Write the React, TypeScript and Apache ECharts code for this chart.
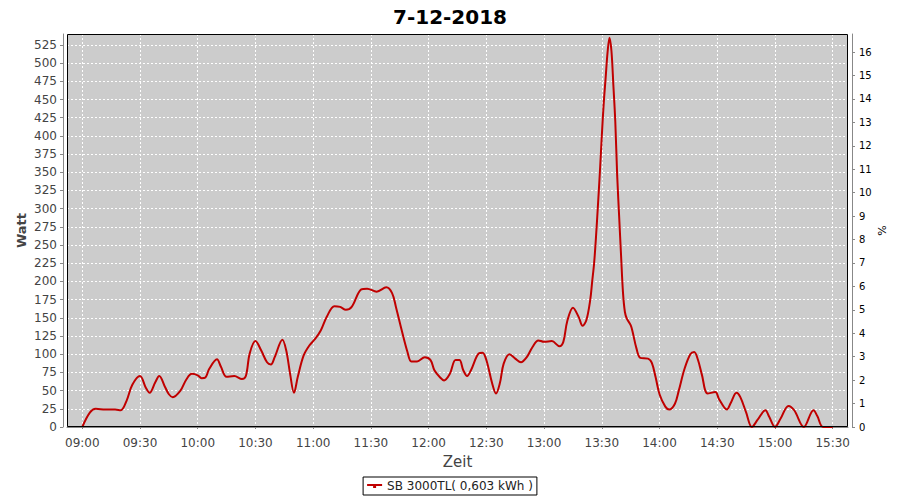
import React, { useEffect, useRef } from "react";
import * as echarts from "echarts";

const TITLE = "7-12-2018";
const SERIES_NAME = "SB 3000TL( 0,603 kWh )";
const X_AXIS_NAME = "Zeit";
const Y_LEFT_NAME = "Watt";
const Y_RIGHT_NAME = "%";

const times = [
  "09:00", "09:04", "09:07", "09:12", "09:17", "09:20", "09:23", "09:26", "09:30", "09:33",
  "09:35", "09:38", "09:40", "09:43", "09:45", "09:47", "09:51", "09:54", "09:57", "10:00",
  "10:02", "10:04", "10:06", "10:10", "10:12", "10:15", "10:19", "10:23", "10:25", "10:27",
  "10:30", "10:33", "10:36", "10:38", "10:40", "10:44", "10:46", "10:48", "10:50", "10:52",
  "10:55", "10:58", "11:01", "11:04", "11:07", "11:11", "11:14", "11:17", "11:20", "11:25",
  "11:28", "11:33", "11:38", "11:41", "11:43", "11:46", "11:49", "11:51", "11:54", "11:58",
  "12:01", "12:03", "12:06", "12:08", "12:11", "12:14", "12:16", "12:18", "12:20", "12:22",
  "12:26", "12:28", "12:30", "12:33", "12:35", "12:37", "12:39", "12:42", "12:45", "12:48",
  "12:51", "12:54", "12:57", "13:00", "13:04", "13:08", "13:10", "13:12", "13:15", "13:18",
  "13:20", "13:22", "13:24", "13:25", "13:26", "13:27", "13:28", "13:29", "13:30", "13:31",
  "13:32", "13:33", "13:34", "13:35", "13:36", "13:37", "13:38", "13:39", "13:40", "13:41",
  "13:42", "13:43", "13:45", "13:46", "13:48", "13:50", "13:54", "13:56", "13:58", "14:00",
  "14:03", "14:05", "14:08", "14:10", "14:13", "14:16", "14:18", "14:20", "14:22", "14:25",
  "14:29", "14:31", "14:35", "14:37", "14:40", "14:42", "14:45", "14:48", "14:51", "14:55",
  "14:57", "15:00", "15:03", "15:07", "15:10", "15:15", "15:20", "15:22", "15:25", "15:30",
];

const watts = [
  0, 20, 25, 24, 24, 23, 36, 58, 70, 54,
  47, 62, 70, 55, 45, 41, 50, 65, 73, 71,
  67, 68, 80, 93, 83, 69, 70, 66, 70, 101,
  118, 105, 89, 86, 96, 120, 105, 73, 47, 69,
  98, 112, 121, 133, 151, 166, 165, 161, 165, 189,
  190, 186, 192, 184, 165, 133, 103, 90, 90, 96,
  92, 78, 68, 64, 73, 92, 92, 78, 70, 78,
  101, 102, 92, 60, 46, 60, 87, 100, 94, 89,
  96, 110, 119, 117, 118, 111, 117, 145, 164, 151,
  139, 147, 175, 200, 225, 262, 305, 350, 400, 445,
  480, 515, 535, 517, 470, 420, 345, 290, 236, 185,
  158, 149, 140, 131, 108, 95, 94, 88, 68, 45,
  28, 24, 32, 50, 80, 100, 103, 92, 72, 46,
  48, 38, 24, 33, 47, 41, 20, 0, 10, 23,
  14, 0, 12, 29, 23, 0, 23, 15, 0, 0,
];

const X_TICK_FIRST = "09:00";
const X_TICK_LAST = "15:30";
const X_TICK_STEP = 30; // minutes
const W_MAX = 540;
const W_STEP = 25;
const PCT_MAX = 16.77;
const PCT_STEP = 1;

const toMin = (s: string) => {
  const [h, m] = s.split(":").map(Number);
  return h * 60 + m;
};
const fmtMin = (v: number) => {
  const h = Math.floor(v / 60);
  const m = Math.round(v - h * 60);
  return String(h).padStart(2, "0") + ":" + String(m).padStart(2, "0");
};

const FONT = "DejaVu Sans";

export default function App() {
  const ref = useRef<HTMLDivElement>(null);
  useEffect(() => {
    if (!ref.current) return;
    const chart = echarts.init(ref.current, undefined, { renderer: "svg" });

    const gLeft = 67, gRight = 52, gTop = 34, gBottom = 73;
    const plotW = 900 - gLeft - gRight;
    const plotH = 500 - gTop - gBottom;
    const tFirst = toMin(X_TICK_FIRST);
    const tLast = toMin(X_TICK_LAST);
    const pad = 7.95;
    const xMin = tFirst - pad;
    const xMax = tLast + pad;
    const pxPerMin = plotW / (xMax - xMin);
    const innerLeft = gLeft + pad * pxPerMin;
    const innerRight = gRight + pad * pxPerMin;

    const data = times.map((t, i) => [toMin(t), watts[i]]);

    const axisGray = "#888888";
    const labelColor = "#444444";

    chart.setOption({
      animation: false,
      textStyle: { fontFamily: FONT },
      title: {
        text: TITLE,
        left: "center",
        top: 2,
        textStyle: { fontFamily: FONT, fontSize: 20, fontWeight: "bold", color: "#000" },
      },
      legend: {
        left: "center",
        top: 477,
        borderColor: "#000",
        borderWidth: 1,
        padding: [3, 4],
        itemWidth: 15,
        itemHeight: 4,
        icon: "path://M0,0 H15 V2 H0 Z M6,2 H9 V4 H6 Z",
        textStyle: { fontFamily: FONT, fontSize: 12, color: "#222" },
        data: [SERIES_NAME],
      },
      grid: [
        {
          left: gLeft, right: gRight, top: gTop, bottom: gBottom,
          show: true, backgroundColor: "#cccccc", borderWidth: 0,
        },
        {
          left: innerLeft, right: innerRight, top: gTop, bottom: gBottom,
          show: false,
        },
      ],
      xAxis: [
        {
          gridIndex: 0,
          type: "value",
          min: xMin,
          max: xMax,
          offset: 5,
          axisLine: { show: true, lineStyle: { color: axisGray, width: 1 } },
          axisTick: { show: false },
          axisLabel: { show: false },
          splitLine: { show: false },
          name: X_AXIS_NAME,
          nameLocation: "middle",
          nameGap: 22,
          nameTextStyle: { fontFamily: FONT, fontSize: 15, color: labelColor },
        },
        {
          gridIndex: 1,
          type: "value",
          min: tFirst,
          max: tLast,
          interval: X_TICK_STEP,
          offset: 5,
          axisLine: { show: false },
          axisTick: { show: true, length: 2, lineStyle: { color: axisGray } },
          axisLabel: {
            show: true,
            margin: 5,
            fontFamily: FONT,
            fontSize: 12,
            color: labelColor,
            formatter: (v: number) => fmtMin(v),
          },
          splitLine: { show: true, lineStyle: { color: "#ffffff", type: [2, 2], width: 1 } },
        },
      ],
      yAxis: [
        {
          gridIndex: 0,
          type: "value",
          position: "left",
          min: 0,
          max: W_MAX,
          interval: W_STEP,
          offset: 4,
          axisLine: { show: true, lineStyle: { color: axisGray } },
          axisTick: { show: true, length: 3, lineStyle: { color: axisGray } },
          axisLabel: {
            margin: 6,
            fontFamily: FONT,
            fontSize: 12,
            color: labelColor,
            showMaxLabel: false,
          },
          splitLine: { show: true, lineStyle: { color: "#ffffff", type: [2, 2], width: 1 } },
        },
        {
          gridIndex: 0,
          type: "value",
          position: "right",
          min: 0,
          max: PCT_MAX,
          interval: PCT_STEP,
          offset: 4,
          axisLine: { show: true, lineStyle: { color: axisGray } },
          axisTick: { show: true, length: 3, lineStyle: { color: axisGray } },
          axisLabel: {
            margin: 7,
            fontFamily: FONT,
            fontSize: 10,
            color: "#000",
            showMaxLabel: false,
          },
          splitLine: { show: false },
        },
        {
          gridIndex: 1,
          type: "value",
          min: 0,
          max: W_MAX,
          show: false,
        },
      ],
      graphic: [
        {
          type: "rect",
          z: 100,
          silent: true,
          shape: { x: gLeft + 0.5, y: gTop + 0.5, width: plotW - 1, height: plotH - 1 },
          style: { fill: "none", stroke: "#000", lineWidth: 1 },
        },
        {
          type: "text",
          x: 21,
          y: gTop + plotH / 2,
          rotation: Math.PI / 2,
          silent: true,
          style: {
            text: Y_LEFT_NAME,
            fontFamily: FONT,
            fontSize: 13,
            fontWeight: "bold",
            fill: labelColor,
            align: "center",
            verticalAlign: "middle",
          },
        },
        {
          type: "text",
          x: 882,
          y: gTop + plotH / 2,
          rotation: Math.PI / 2,
          silent: true,
          style: {
            text: Y_RIGHT_NAME,
            fontFamily: FONT,
            fontSize: 11,
            fill: "#000",
            align: "center",
            verticalAlign: "middle",
          },
        },
      ],
      series: [
        {
          name: SERIES_NAME,
          type: "line",
          xAxisIndex: 0,
          yAxisIndex: 0,
          data,
          smooth: 0.35,
          showSymbol: false,
          symbol: "none",
          clip: true,
          lineStyle: { color: "#c00000", width: 2 },
          itemStyle: { color: "#c00000" },
          z: 5,
        },
      ],
    });

    return () => chart.dispose();
  }, []);

  return (
    <div
      ref={ref}
      style={{ position: "fixed", left: 0, top: 0, width: 900, height: 500, background: "#fff" }}
    />
  );
}
